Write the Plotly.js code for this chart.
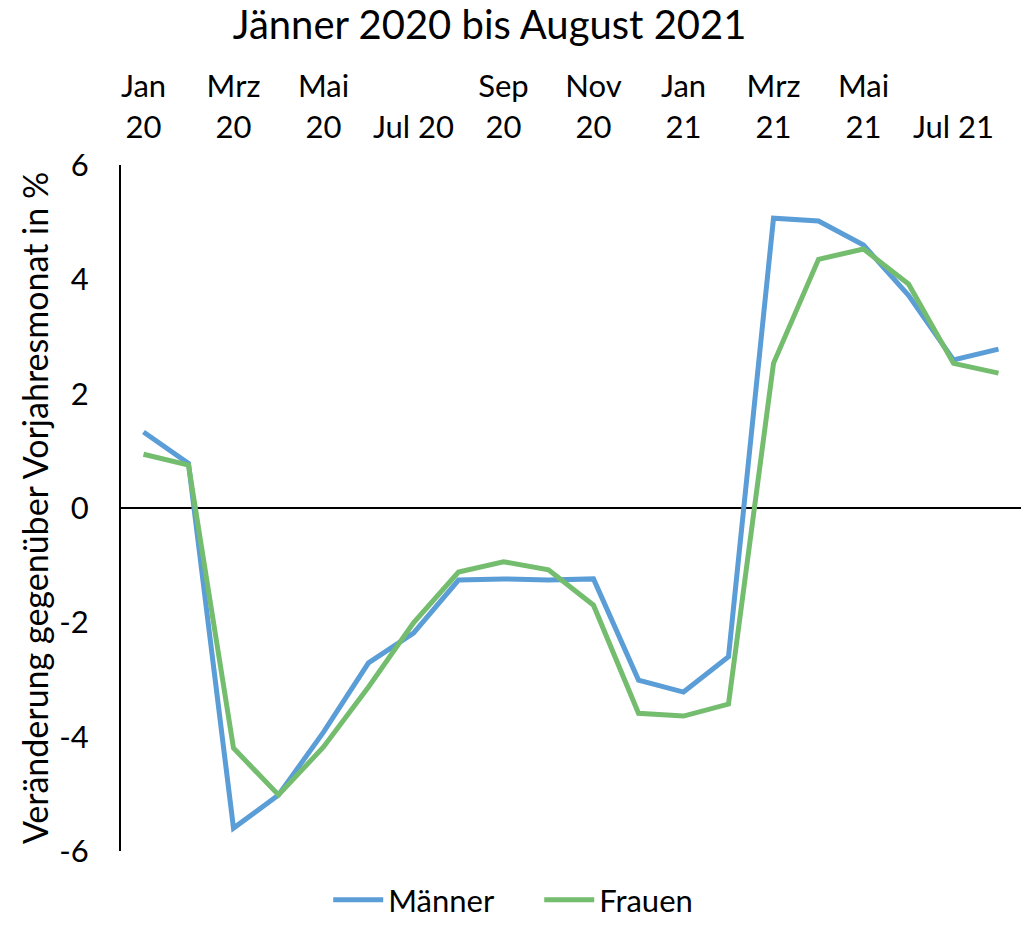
<!DOCTYPE html>
<html>
<head>
<meta charset="utf-8">
<script src="https://cdn.plot.ly/plotly-3.0.1.min.js"></script>
<style>html,body{margin:0;padding:0;background:#fff;}#chart{width:1033px;height:927px;}</style>
</head>
<body>
<div id="chart"></div>
<script>
const months = ["Jan 20","Feb 20","Mrz 20","Apr 20","Mai 20","Jun 20","Jul 20","Aug 20","Sep 20","Okt 20","Nov 20","Dez 20","Jan 21","Feb 21","Mrz 21","Apr 21","Mai 21","Jun 21","Jul 21","Aug 21"];
const maenner = [1.33, 0.78, -5.60, -5.02, -3.92, -2.71, -2.19, -1.26, -1.24, -1.26, -1.24, -3.01, -3.22, -2.60, 5.07, 5.02, 4.60, 3.72, 2.59, 2.78];
const frauen  = [0.94, 0.75, -4.20, -5.02, -4.18, -3.13, -2.01, -1.12, -0.94, -1.08, -1.70, -3.59, -3.64, -3.43, 2.53, 4.35, 4.53, 3.92, 2.53, 2.36];
const tickMonths = ["Jan 20","Mrz 20","Mai 20","Jul 20","Sep 20","Nov 20","Jan 21","Mrz 21","Mai 21","Jul 21"];
const tickLabels = ["Jan<br>20","Mrz<br>20","Mai<br>20","Jul 20","Sep<br>20","Nov<br>20","Jan<br>21","Mrz<br>21","Mai<br>21","Jul 21"];
const yTicks = [-6,-4,-2,0,2,4,6];
const yTickLabels = ["-6","-4","-2","0","2","4","6"];

const FONT = "Lato, 'Open Sans', sans-serif";

const traces = [
  {x: months, y: maenner, name: "Männer", type: "scatter", mode: "lines",
   line: {color: "#5B9DD6", width: 5}},
  {x: months, y: frauen, name: "Frauen", type: "scatter", mode: "lines",
   line: {color: "#74BD6E", width: 5}}
];

const layout = {
  width: 1033, height: 927,
  margin: {l: 121, r: 12, t: 165, b: 76},
  paper_bgcolor: "#fff", plot_bgcolor: "#fff",
  font: {family: FONT, color: "#000", size: 31},
  title: {text: "Jänner 2020 bis August 2021", font: {family: FONT, size: 40, color: "#000"},
          xref: "container", x: 0.474, xanchor: "center", yref: "container", y: 0.973, yanchor: "middle"},
  xaxis: {type: "category", side: "top", range: [-0.5, 19.5],
          tickmode: "array", tickvals: tickMonths, ticktext: tickLabels,
          showline: false, showgrid: false, zeroline: false, ticks: "",
          tickangle: 0, ticklabelstandoff: 20,
          tickfont: {family: FONT, size: 31, color: "#000"}},
  yaxis: {range: [-6, 6], tickmode: "array", tickvals: yTicks, ticktext: yTickLabels,
          showline: true, linecolor: "#000", linewidth: 2,
          showgrid: false, zeroline: true, zerolinecolor: "#000", zerolinewidth: 2,
          ticks: "", ticklabelstandoff: 24,
          tickfont: {family: FONT, size: 31, color: "#000"},
          title: {text: "Veränderung gegenüber Vorjahresmonat in %", font: {family: FONT, size: 34, color: "#000"}, standoff: 0}},
  showlegend: true,
  legend: {orientation: "h", xref: "container", x: 0.522, xanchor: "center",
           yref: "container", y: 0, yanchor: "bottom",
           entrywidthmode: "pixels", entrywidth: 146,
           font: {family: FONT, size: 31, color: "#000"}, itemwidth: 50,
           bgcolor: "rgba(0,0,0,0)"}
};

Plotly.newPlot("chart", traces, layout, {displayModeBar: false, staticPlot: true});
</script>
</body>
</html>
